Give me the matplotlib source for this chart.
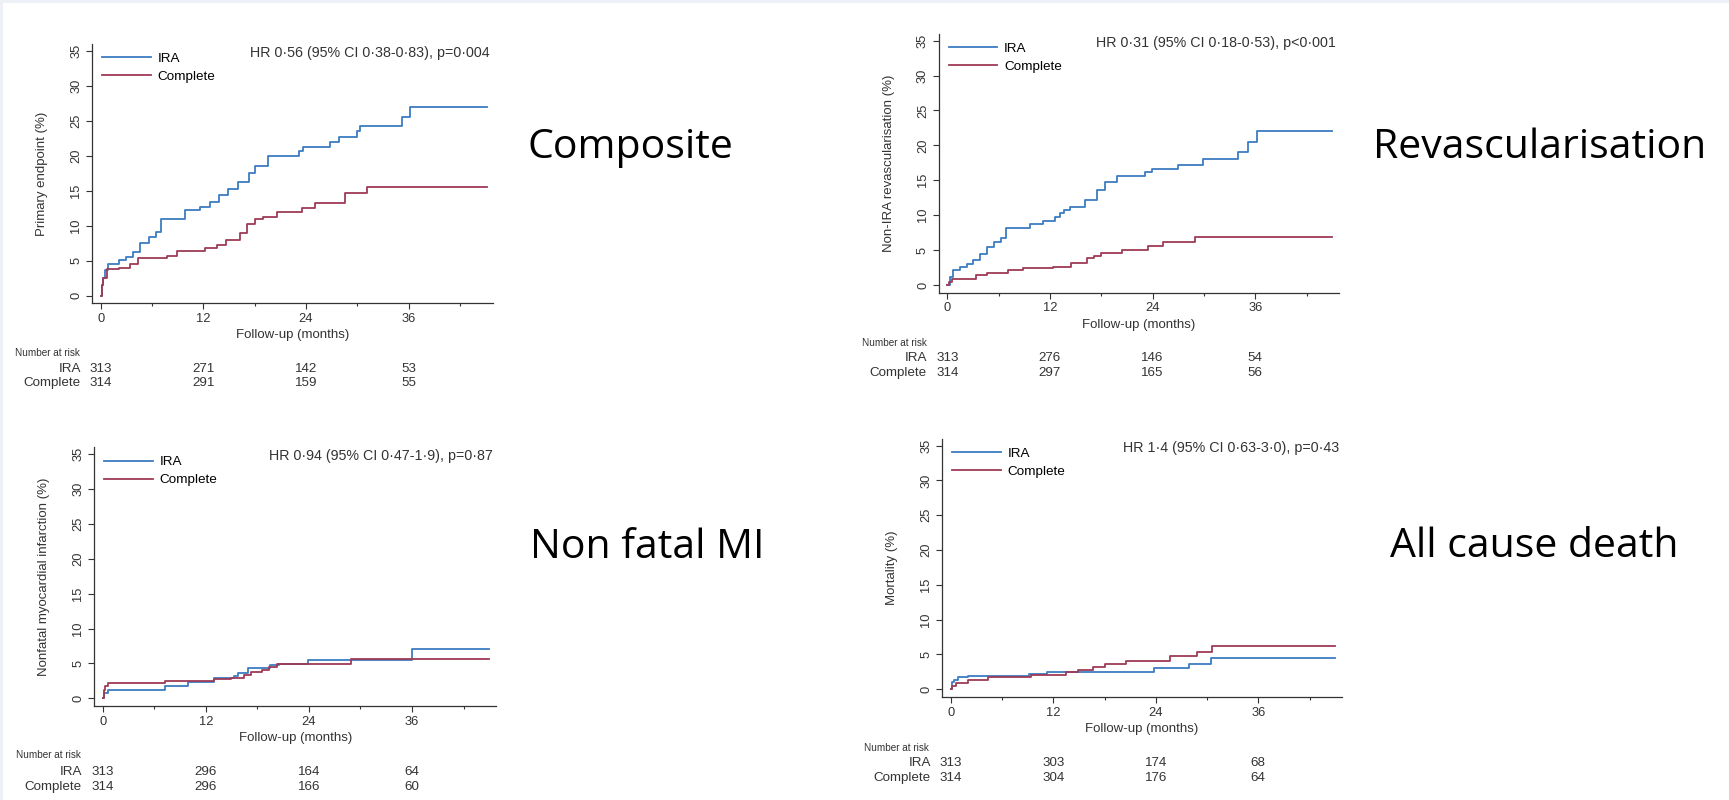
import matplotlib
matplotlib.use("Agg")
from matplotlib import pyplot as plt

plt.rcParams['font.family'] = ['Liberation Sans', 'DejaVu Sans']

W, H = 1729, 800

# ---- data ----
comp_ira_t = [0, 0.15, 0.3, 0.5, 0.9, 2.1, 3.0, 3.8, 4.6, 5.6, 6.5, 7.1, 9.9, 11.6, 12.8, 13.8, 14.9,
              16.1, 17.3, 18.0, 19.6, 23.2, 23.6, 26.8, 27.8, 29.9, 30.3, 35.2, 36.2, 45.1]
comp_ira_y = [0, 1.5, 2.5, 3.7, 4.5, 5.1, 5.6, 6.3, 7.5, 8.4, 9.1, 10.9, 12.2, 12.7, 13.4, 14.4, 15.3,
              16.3, 17.5, 18.5, 19.9, 20.7, 21.3, 22.0, 22.7, 23.5, 24.2, 25.5, 26.9, 26.9]
comp_cmp_t = [0, 0.15, 0.3, 0.7, 2.1, 3.4, 4.4, 7.7, 8.9, 12.2, 13.6, 14.7, 16.3, 17.1, 18.0, 19.0,
              20.6, 23.5, 25.0, 28.6, 31.1, 45.1]
comp_cmp_y = [0, 1.5, 2.6, 3.8, 4.0, 4.5, 5.4, 5.7, 6.4, 6.8, 7.2, 8.0, 9.0, 10.3, 10.9, 11.3,
              12.0, 12.6, 13.3, 14.6, 15.5, 15.5]

rev_ira_t = [0, 0.3, 0.7, 1.5, 2.3, 3.0, 3.8, 4.6, 5.4, 6.3, 6.9, 9.7, 11.2, 12.6, 13.2, 13.6, 14.3,
             16.1, 17.5, 18.4, 19.8, 23.1, 23.9, 27.0, 29.9, 34.0, 35.2, 36.2, 45.0]
rev_ira_y = [0, 1.2, 2.2, 2.6, 3.0, 3.6, 4.5, 5.5, 6.1, 6.7, 8.1, 8.8, 9.1, 9.8, 10.3, 10.7, 11.2,
             12.2, 13.6, 14.7, 15.6, 16.2, 16.6, 17.2, 18.1, 19.1, 20.5, 22.0, 22.0]
rev_cmp_t = [0, 0.2, 0.5, 3.4, 4.6, 7.1, 8.9, 12.4, 14.5, 16.3, 17.1, 18.0, 20.4, 23.5, 25.2, 28.9, 45.0]
rev_cmp_y = [0, 0.5, 0.9, 1.4, 1.7, 2.1, 2.4, 2.6, 3.1, 3.8, 4.2, 4.6, 5.0, 5.6, 6.2, 6.9, 6.9]

mi_ira_t = [0, 0.2, 0.6, 7.3, 9.9, 12.9, 15.3, 15.8, 16.9, 19.5, 20.5, 23.9, 36.0, 45.0]
mi_ira_y = [0, 0.8, 1.2, 1.8, 2.3, 2.9, 3.2, 3.6, 4.4, 4.7, 4.9, 5.5, 7.0, 7.0]
mi_cmp_t = [0, 0.1, 0.3, 0.6, 7.3, 13.0, 14.9, 16.4, 17.3, 18.5, 19.3, 20.3, 28.9, 45.0]
mi_cmp_y = [0, 1.2, 1.7, 2.2, 2.5, 2.7, 2.9, 3.3, 3.7, 4.1, 4.5, 4.9, 5.7, 5.7]

death_ira_t = [0, 0.2, 0.4, 0.9, 2.0, 9.2, 11.3, 23.8, 27.9, 30.5, 45.0]
death_ira_y = [0, 1.0, 1.4, 1.7, 1.9, 2.2, 2.5, 3.0, 3.7, 4.5, 4.5]
death_cmp_t = [0, 0.2, 0.6, 2.0, 4.4, 9.4, 13.5, 14.9, 16.7, 18.0, 20.5, 25.7, 28.8, 30.6, 45.0]
death_cmp_y = [0, 0.5, 0.9, 1.3, 1.8, 2.1, 2.5, 2.8, 3.2, 3.6, 4.1, 4.8, 5.4, 6.2, 6.2]

risk_months = [0, 12, 24, 36]
comp_risk_ira = [313, 271, 142, 53]
comp_risk_cmp = [314, 291, 159, 55]
rev_risk_ira = [313, 276, 146, 54]
rev_risk_cmp = [314, 297, 165, 56]
mi_risk_ira = [313, 296, 164, 64]
mi_risk_cmp = [314, 296, 166, 60]
death_risk_ira = [313, 303, 174, 68]
death_risk_cmp = [314, 304, 176, 64]

hr_texts = ['HR 0·56 (95% CI 0·38-0·83), p=0·004',
            'HR 0·31 (95% CI 0·18-0·53), p<0·001',
            'HR 0·94 (95% CI 0·47-1·9), p=0·87',
            'HR 1·4 (95% CI 0·63-3·0), p=0·43']
y_labels = ['Primary endpoint (%)', 'Non-IRA revascularisation (%)',
            'Nonfatal myocardial infarction (%)', 'Mortality (%)']
titles = ['Composite', 'Revascularisation', 'Non fatal MI', 'All cause death']

IRA_COLOR = '#3d7cc2'
CMP_COLOR = '#9e3a55'
AX_COLOR = '#333333'

XMIN, XMAX = -1, 45.8
YMIN, YMAX = -1.1, 36

fig = plt.figure(figsize=(W / 100, H / 100), dpi=100)
fig.patch.set_facecolor('#eef0f8')
fig.add_artist(plt.Rectangle((3 / W, 0), 1, 1 - 3 / H, transform=fig.transFigure,
                             facecolor='white', edgecolor='none', zorder=-1))


def km_panel(px, title_pos, ira_t, ira_y, cmp_t, cmp_y, risk_ira, risk_cmp,
             hr, ylab, title, risk_rows):
    x0, x36, y0, y35 = px
    ppm = (x36 - x0) / 36
    ppu = (y0 - y35) / 35
    left = x0 + XMIN * ppm
    right = x0 + XMAX * ppm
    top = y0 - YMAX * ppu
    bottom = y0 - YMIN * ppu
    ax = fig.add_axes([left / W, 1 - bottom / H, (right - left) / W, (bottom - top) / H])
    ax.patch.set_alpha(0)

    ax.step(ira_t, ira_y, where='post', color=IRA_COLOR, lw=1.3, label='IRA')
    ax.step(cmp_t, cmp_y, where='post', color=CMP_COLOR, lw=1.3, label='Complete')

    ax.set_xlim(XMIN, XMAX)
    ax.set_ylim(YMIN, YMAX)
    for s in ['top', 'right']:
        ax.spines[s].set_visible(False)
    for s in ['left', 'bottom']:
        ax.spines[s].set_color(AX_COLOR)
        ax.spines[s].set_linewidth(0.9)
    ax.set_xticks([0, 12, 24, 36])
    ax.set_xticks([6, 18, 30, 42], minor=True)
    ax.set_yticks(range(0, 36, 5))
    ax.tick_params(axis='both', which='major', length=4, width=0.8, color=AX_COLOR,
                   labelsize=9.3, labelcolor=AX_COLOR, pad=3)
    ax.tick_params(axis='x', which='minor', length=2.5, width=0.8, color=AX_COLOR)
    for lab in ax.get_yticklabels():
        lab.set_rotation(90)
        lab.set_va('center')

    axw = right - left
    axh = bottom - top
    ax.set_ylabel(ylab, fontsize=9.5, color=AX_COLOR)
    ax.yaxis.set_label_coords(-44 / axw, 0.5)
    ax.set_xlabel('Follow-up (months)', fontsize=9.5, color=AX_COLOR)
    ax.xaxis.set_label_coords(0.5, -26 / axh)

    ax.legend(loc='upper left', bbox_to_anchor=(10 / axw, 1 - 9 / axh), frameon=False,
              fontsize=9.7, handlelength=3.6, handletextpad=0.5, labelspacing=0.4,
              borderaxespad=0, borderpad=0)

    ax.text(1 - 3 / axw, 1 - 9 / axh, hr, transform=ax.transAxes, ha='right', va='center',
            fontsize=10.3, color=AX_COLOR)

    # number at risk table
    hdr_x, hdr_y, lab_x, ira_row, cmp_row = risk_rows
    fig.text(hdr_x / W, 1 - hdr_y / H, 'Number at risk', fontsize=7.2, color=AX_COLOR,
             ha='left', va='center')
    fig.text(lab_x / W, 1 - ira_row / H, 'IRA', fontsize=9.6, color=AX_COLOR, ha='right', va='center')
    fig.text(lab_x / W, 1 - cmp_row / H, 'Complete', fontsize=9.6, color=AX_COLOR, ha='right', va='center')
    for m, a, b in zip(risk_months, risk_ira, risk_cmp):
        ax.annotate(str(a), xy=(m, H - ira_row), xycoords=('data', 'figure pixels'),
                    ha='center', va='center', fontsize=9.6, color=AX_COLOR, annotation_clip=False)
        ax.annotate(str(b), xy=(m, H - cmp_row), xycoords=('data', 'figure pixels'),
                    ha='center', va='center', fontsize=9.6, color=AX_COLOR, annotation_clip=False)

    fig.text(title_pos[0] / W, 1 - title_pos[1] / H, title, fontsize=29.5, family='Open Sans',
             color='black', ha='left', va='baseline')
    return ax


km_panel((100.7, 408.7, 295.7, 50.7), (528, 158.3), comp_ira_t, comp_ira_y, comp_cmp_t, comp_cmp_y,
         comp_risk_ira, comp_risk_cmp, hr_texts[0], y_labels[0], titles[0],
         (15, 353, 81, 369, 383))
km_panel((947.3, 1255.3, 285, 40.7), (1373, 158), rev_ira_t, rev_ira_y, rev_cmp_t, rev_cmp_y,
         rev_risk_ira, rev_risk_cmp, hr_texts[1], y_labels[1], titles[1],
         (862, 342.7, 927, 358.3, 373.3))
km_panel((102.7, 412, 698.3, 454), (530, 558), mi_ira_t, mi_ira_y, mi_cmp_t, mi_cmp_y,
         mi_risk_ira, mi_risk_cmp, hr_texts[2], y_labels[2], titles[2],
         (16, 755, 81.7, 771.7, 786.7))
km_panel((950.7, 1258.3, 689.3, 445.7), (1390, 556.7), death_ira_t, death_ira_y, death_cmp_t, death_cmp_y,
         death_risk_ira, death_risk_cmp, hr_texts[3], y_labels[3], titles[3],
         (864, 748.3, 930.7, 763.3, 778.3))

fig.savefig('out.png', dpi=100, facecolor=fig.get_facecolor())
